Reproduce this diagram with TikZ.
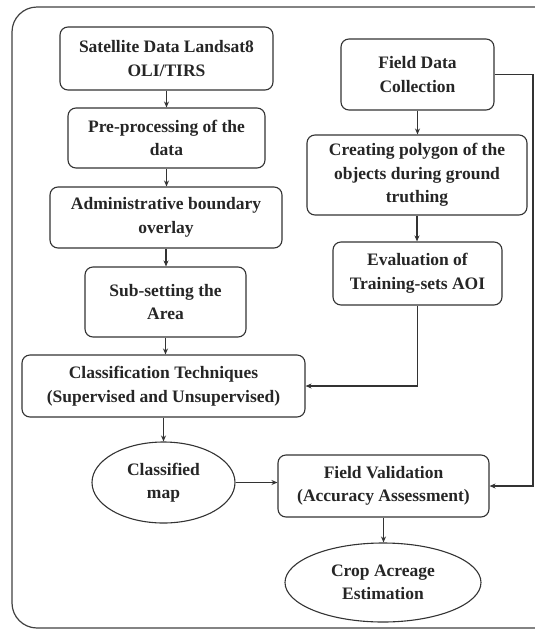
\documentclass[tikz,border=0pt]{standalone}
\usepackage{fontspec}
\setmainfont{Liberation Serif}
\usetikzlibrary{arrows.meta,shapes.geometric}
\begin{document}
\begin{tikzpicture}[x=1pt,y=-1pt,
  stepbox/.style={draw=black!80, line width=1.1pt, rounded corners=8pt, align=center,
    inner sep=0pt, font=\bfseries\fontsize{17.5}{23.5}\selectfont, text=black!85},
  oval/.style={ellipse, draw=black!80, line width=1.1pt, align=center,
    inner sep=0pt, font=\bfseries\fontsize{17.5}{23.5}\selectfont, text=black!85},
  link/.style={draw=black!80, line width=1.1pt, -{Stealth[length=6pt,width=5pt]}},
  frameline/.style={draw=black!75, line width=1.2pt, rounded corners=25pt}]
\useasboundingbox (0,0) rectangle (535,630);

% outer frame, running off the right edge
\begin{scope}
  \clip (0,0) rectangle (535,630);
  \draw[frameline] (560,7) -- (12,7) -- (12,628) -- (560,628);
\end{scope}

% left column
\node[stepbox, minimum width=213pt, minimum height=63pt] (sat) at (166.5,58.5) {Satellite Data Landsat8\\OLI/TIRS};
\node[stepbox, minimum width=197pt, minimum height=60pt] (pre) at (166.5,138) {Pre-processing of the\\data};
\node[stepbox, minimum width=232pt, minimum height=61pt] (adm) at (166,217.5) {Administrative boundary\\overlay};
\node[stepbox, minimum width=161pt, minimum height=70pt] (sub) at (165.5,302) {Sub-setting the\\Area};
\node[stepbox, minimum width=283pt, minimum height=62pt] (cls) at (163.5,386) {Classification Techniques\\(Supervised and Unsupervised)};
\node[oval, minimum width=143pt, minimum height=81pt] (map) at (163.5,482.5) {Classified\\map};

% right column
\node[stepbox, minimum width=153pt, minimum height=71pt] (fdc) at (417.5,74.5) {Field Data\\Collection};
\node[stepbox, minimum width=220pt, minimum height=80pt] (poly) at (417,175) {Creating polygon of the\\objects during ground\\truthing};
\node[stepbox, minimum width=169pt, minimum height=63pt] (aoi) at (417.5,273.5) {Evaluation of\\Training-sets AOI};

% bottom
\node[stepbox, minimum width=211pt, minimum height=62pt] (val) at (383.5,486) {Field Validation\\(Accuracy Assessment)};
\node[oval, minimum width=196pt, minimum height=79pt] (crop) at (383,582.5) {Crop Acreage\\Estimation};

% connectors
\draw[link] (sat.south) -- (sat.south |- pre.north);
\draw[link] (pre.south) -- (pre.south |- adm.north);
\draw[link] (adm.south) -- (adm.south |- sub.north);
\draw[link] (sub.south) -- (sub.south |- cls.north);
\draw[link] (cls.south) -- (cls.south |- map.north);
\draw[link] (fdc.south) -- (fdc.south |- poly.north);
\draw[link] (poly.south) -- (poly.south |- aoi.north);
\draw[link] (aoi.south) |- (cls.east);
\draw[link] (map.east) -- (map.east -| val.west);
\draw[link] (val.south) -- (val.south |- crop.north);
\coordinate (rt) at (533,74.5);
\draw[link] (fdc.east) -- (rt) |- (val.east);
\end{tikzpicture}
\end{document}
